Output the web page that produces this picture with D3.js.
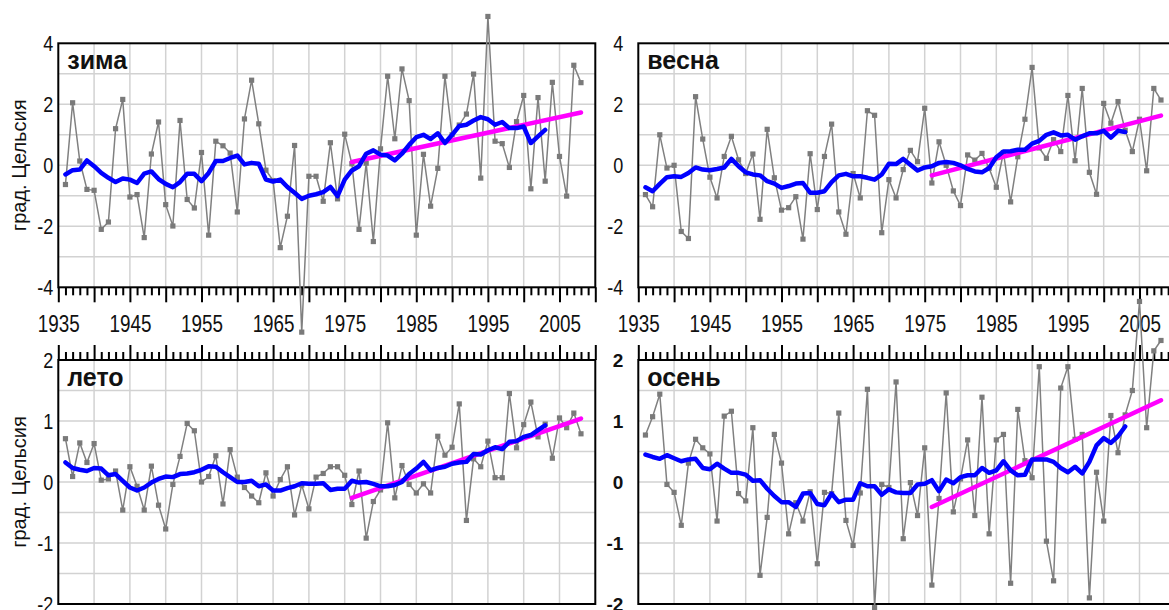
<!DOCTYPE html>
<html>
<head>
<meta charset="utf-8">
<script src="https://d3js.org/d3.v7.min.js"></script>
<style>
    body { margin: 0; background: #fff; }
    svg { display: block; }
</style>
</head>
<body>
<svg width="1169" height="610"></svg>

<script>
    // годы наблюдений, скользящего среднего и тренда
    var years = d3.range(1936, 2009);
    var avgYears = d3.range(1936, 2004);
    var trendYears = [1976, 2008];

    // аномалии температуры по сезонам, град. Цельсия
    var winter = [-0.63, 2.05, 0.14, -0.79, -0.82, -2.1, -1.86, 1.2, 2.16, -1.04,
        -0.96, -2.37, 0.37, 1.42, -1.29, -1.99, 1.47, -1.12, -1.4, 0.42,
        -2.29, 0.79, 0.64, 0.4, -1.53, 1.52, 2.79, 1.36, -0.16, -0.5,
        -2.7, -1.67, 0.65, -5.47, -0.36, -0.36, -1.18, 0.74, -1.1, 1.02,
        0.05, -2.1, 0.07, -2.5, 0.54, 2.92, 0.87, 3.16, 2.12, -2.29,
        0.36, -1.34, -0.1, 2.92, 1.0, 1.32, 1.68, 2.99, -0.42, 4.88,
        0.79, 0.71, -0.07, 1.43, 2.29, -0.77, 2.22, -0.52, 2.72, 0.29,
        -1.01, 3.28, 2.71];
    var spring = [-0.96, -1.36, 1.0, -0.09, 0.0, -2.17, -2.4, 2.25, 0.86, -0.39,
        -1.07, 0.29, 0.95, 0.18, -0.27, 0.37, -1.77, 1.18, -0.41, -1.47,
        -1.39, -1.03, -2.42, 0.38, -1.45, 0.29, 1.35, -1.53, -2.26, -0.27,
        -1.07, 1.79, 1.64, -2.21, -0.47, -1.07, -0.14, 0.49, 0.12, 1.87,
        -0.58, 0.77, 0.0, -0.84, -1.32, 0.34, 0.17, 0.39, -0.1, -0.72,
        0.42, -1.2, 0.28, 1.51, 3.21, 0.57, 0.23, 0.84, 0.45, 2.29,
        0.15, 2.52, -0.23, -0.95, 2.03, 1.38, 2.09, 1.15, 0.45, 1.51,
        -0.18, 2.52, 2.14];
    var summer = [0.71, 0.09, 0.64, 0.32, 0.63, 0.03, 0.05, 0.18, -0.46, 0.25,
        -0.07, -0.46, 0.26, -0.38, -0.77, -0.04, 0.42, 0.96, 0.84, 0.0,
        0.09, 0.43, -0.36, 0.53, 0.08, -0.09, -0.23, -0.34, 0.15, -0.23,
        0.04, 0.25, -0.54, -0.05, -0.44, 0.08, 0.14, 0.25, 0.25, 0.11,
        -0.37, 0.18, -0.92, -0.32, -0.13, 0.97, -0.26, 0.27, -0.04, -0.18,
        -0.03, -0.18, 0.75, 0.44, 0.57, 1.28, -0.63, 0.38, 0.25, 0.67,
        0.07, 0.07, 1.45, 0.56, 0.94, 1.31, 0.74, 0.95, 0.39, 1.05,
        0.89, 1.13, 0.79];
    var autumn = [0.77, 1.07, 1.44, -0.04, -0.17, -0.71, 0.31, 0.7, 0.56, 0.46,
        -0.64, 1.08, 1.16, -0.19, -0.31, 0.89, -1.53, -0.58, 0.78, 0.31,
        -0.85, -0.34, -0.64, -0.16, -1.34, -0.17, -0.19, 1.13, -0.63, -1.04,
        -0.18, 1.52, -2.06, -0.04, -0.09, 1.64, -0.93, -0.01, -0.55, 0.56,
        -1.69, -0.27, 1.46, -0.49, 0.05, 0.69, -0.55, 1.39, -0.85, 0.69,
        0.78, -1.66, 1.19, 0.35, 0.07, 1.89, -0.97, -1.62, 1.54, 1.89,
        0.7, 0.78, -1.9, 0.16, -0.64, 1.09, 0.48, 1.1, 1.5, 2.96,
        0.89, 2.15, 2.32];

    // 11-летнее скользящее среднее
    var winterAvg = [-0.3, -0.16, -0.14, 0.16, -0.03, -0.25, -0.41, -0.55, -0.43, -0.47,
        -0.58, -0.27, -0.2, -0.45, -0.61, -0.72, -0.55, -0.28, -0.28, -0.52,
        -0.25, 0.14, 0.14, 0.24, 0.32, 0.03, 0.08, 0.05, -0.47, -0.53,
        -0.47, -0.71, -0.9, -1.1, -1.0, -0.95, -0.88, -0.71, -1.01, -0.47,
        -0.17, -0.03, 0.38, 0.49, 0.35, 0.32, 0.16, 0.38, 0.67, 0.92,
        1.0, 0.86, 1.05, 0.73, 1.0, 1.29, 1.33, 1.47, 1.58, 1.51,
        1.33, 1.42, 1.22, 1.22, 1.27, 0.73, 0.95, 1.16];
    var springAvg = [-0.72, -0.85, -0.61, -0.39, -0.36, -0.38, -0.25, -0.07, -0.14, -0.16,
        -0.12, -0.07, 0.21, -0.03, -0.23, -0.3, -0.33, -0.52, -0.6, -0.74,
        -0.68, -0.6, -0.58, -0.9, -0.9, -0.85, -0.55, -0.33, -0.28, -0.36,
        -0.36, -0.41, -0.47, -0.3, 0.05, 0.04, 0.21, 0.02, -0.17, -0.07,
        -0.03, 0.08, 0.11, 0.08, 0.0, -0.12, -0.2, -0.23, -0.09, 0.26,
        0.45, 0.46, 0.51, 0.51, 0.71, 0.8, 1.0, 1.08, 0.98, 1.0,
        0.84, 0.95, 1.05, 1.05, 1.13, 0.91, 1.13, 1.09];
    var summerAvg = [0.32, 0.23, 0.2, 0.18, 0.23, 0.22, 0.11, 0.13, 0.02, -0.09,
        -0.14, -0.09, -0.01, 0.05, 0.09, 0.08, 0.13, 0.14, 0.16, 0.2,
        0.26, 0.25, 0.16, 0.08, 0.0, 0.0, 0.02, -0.07, -0.04, -0.14,
        -0.14, -0.1, -0.07, -0.02, -0.03, -0.03, -0.02, -0.13, -0.11, -0.11,
        0.02, -0.01, 0.0, -0.03, -0.07, -0.07, -0.05, 0.0, 0.13, 0.22,
        0.33, 0.19, 0.23, 0.25, 0.3, 0.32, 0.33, 0.46, 0.45, 0.52,
        0.57, 0.54, 0.66, 0.67, 0.74, 0.77, 0.85, 0.93];
    var autumnAvg = [0.45, 0.41, 0.38, 0.44, 0.39, 0.34, 0.37, 0.38, 0.23, 0.21,
        0.3, 0.22, 0.15, 0.15, 0.12, 0.02, 0.03, -0.11, -0.23, -0.33,
        -0.33, -0.41, -0.19, -0.18, -0.36, -0.38, -0.19, -0.33, -0.29, -0.29,
        -0.02, -0.07, -0.07, -0.21, -0.12, -0.17, -0.18, -0.18, -0.04, -0.03,
        0.03, -0.15, 0.04, -0.02, 0.08, 0.11, 0.11, 0.23, 0.15, 0.19,
        0.34, 0.19, 0.11, 0.12, 0.37, 0.37, 0.37, 0.33, 0.23, 0.16,
        0.25, 0.14, 0.33, 0.6, 0.72, 0.64, 0.75, 0.91];

    // линейный тренд 1976-2008 (значения на концах)
    var winterTrend = [0.11, 1.73];
    var springTrend = [-0.33, 1.63];
    var summerTrend = [-0.26, 1.04];
    var autumnTrend = [-0.41, 1.34];

    // подписи и деления
    var xLabels = [1935, 1945, 1955, 1965, 1975, 1985, 1995, 2005];
    var xGrid = [1940, 1945, 1950, 1955, 1960, 1965, 1970, 1975, 1980, 1985, 1990, 1995, 2000, 2005];
    var yTicksTop = [-4, -2, 0, 2, 4];
    var yGridTop = [-3, -2, -1, 0, 1, 2, 3];
    var yTicksBottom = [-2, -1, 0, 1, 2];
    var yGridBottom = [-1.5, -1, -0.5, 0, 0.5, 1, 1.5];

    var svg = d3.select("svg");
    var W = 537, H = 244;
    var sans = "'Liberation Sans', Arial, sans-serif";
    // узкий шрифт не установлен - сжимаем обычный по горизонтали
    var squeeze = 0.82;

    var panels = [
        { title: "зима", left: 58.3, top: 43.3, values: winter, avg: winterAvg, trend: winterTrend,
          domain: [-4, 4], ticks: yTicksTop, grid: yGridTop, axis: "bottom", yLabel: true, labelGap: 5, bold: false },
        { title: "весна", left: 638.3, top: 43.3, values: spring, avg: springAvg, trend: springTrend,
          domain: [-4, 4], ticks: yTicksTop, grid: yGridTop, axis: "bottom", yLabel: false, labelGap: 15, bold: false },
        { title: "лето", left: 58.3, top: 360, values: summer, avg: summerAvg, trend: summerTrend,
          domain: [-2, 2], ticks: yTicksBottom, grid: yGridBottom, axis: "top", yLabel: true, labelGap: 5, bold: false },
        { title: "осень", left: 638.3, top: 360, values: autumn, avg: autumnAvg, trend: autumnTrend,
          domain: [-2, 2], ticks: yTicksBottom, grid: yGridBottom, axis: "top", yLabel: false, labelGap: 15, bold: true }
    ];

    panels.forEach(drawPanel);

    function drawPanel(p) {
        var g = svg.append("g").attr("transform", "translate(" + p.left + "," + p.top + ")");
        var x = d3.scaleLinear().domain([1935, 2010]).range([0, W]);
        var y = d3.scaleLinear().domain(p.domain).range([H, 0]);

        // сетка
        g.append("g").selectAll("line").data(xGrid).join("line")
            .attr("x1", function(d) { return x(d); }).attr("x2", function(d) { return x(d); })
            .attr("y1", 0).attr("y2", H)
            .attr("stroke", "#d2d2d2").attr("stroke-width", 1.5);
        g.append("g").selectAll("line").data(p.grid).join("line")
            .attr("x1", 0).attr("x2", W)
            .attr("y1", function(d) { return y(d); }).attr("y2", function(d) { return y(d); })
            .attr("stroke", "#d2d2d2").attr("stroke-width", 1.5);

        // рамка
        g.append("rect").attr("width", W).attr("height", H)
            .attr("fill", "none").attr("stroke", "#000").attr("stroke-width", 2);

        // ось лет: мелкие деления каждый год, крупные каждые 5 лет
        var axis = (p.axis === "bottom" ? d3.axisBottom(x) : d3.axisTop(x))
            .tickValues(d3.range(1935, 2011))
            .tickSize(8)
            .tickFormat(function(d) { return (p.axis === "bottom" && xLabels.indexOf(d) >= 0) ? d : ""; });
        var ax = g.append("g")
            .attr("transform", p.axis === "bottom" ? "translate(0," + H + ")" : null)
            .call(axis);
        ax.select(".domain").remove();
        ax.selectAll(".tick line").attr("stroke", "#000").attr("stroke-width", 2)
            .filter(function(d) { return d % 5 === 0; })
            .attr("y2", p.axis === "bottom" ? 15 : -15);
        ax.selectAll(".tick text")
            .attr("y", null).attr("dy", null)
            .attr("transform", "translate(0,44.5) scale(" + squeeze + ",1)")
            .attr("fill", "#111")
            .style("font-family", sans).style("font-size", "23px");

        // подписи оси значений
        g.append("g").selectAll("text").data(p.ticks).join("text")
            .attr("transform", function(d) {
                return "translate(" + (-p.labelGap) + "," + y(d) + ")" + (p.bold ? "" : " scale(" + squeeze + ",1)");
            })
            .attr("dy", "0.36em")
            .attr("text-anchor", "end")
            .attr("fill", "#111")
            .style("font-family", sans)
            .style("font-weight", p.bold ? "bold" : "normal")
            .style("font-size", p.bold ? "19px" : "22px")
            .text(function(d) { return d; });

        if (p.yLabel) {
            svg.append("text")
                .attr("transform", "translate(26," + (p.top + H / 2) + ") rotate(-90)")
                .attr("text-anchor", "middle")
                .attr("fill", "#111")
                .style("font-family", sans).style("font-size", "20px")
                .text("град. Цельсия");
        }

        // годовые значения
        var line = d3.line()
            .x(function(d) { return x(d[0]); })
            .y(function(d) { return y(d[1]); });
        var pts = d3.zip(years, p.values);

        g.append("path").datum(pts)
            .attr("d", line)
            .attr("fill", "none").attr("stroke", "#808080").attr("stroke-width", 1.5);
        g.append("g").selectAll("rect").data(pts).join("rect")
            .attr("x", function(d) { return x(d[0]) - 2.6; })
            .attr("y", function(d) { return y(d[1]) - 2.6; })
            .attr("width", 5.2).attr("height", 5.2)
            .attr("fill", "#7a7a7a");

        // тренд
        g.append("path").datum(d3.zip(trendYears, p.trend))
            .attr("d", line)
            .attr("fill", "none").attr("stroke", "#ff00ff").attr("stroke-width", 4.5)
            .attr("stroke-linecap", "round");

        // скользящее среднее
        g.append("path").datum(d3.zip(avgYears, p.avg))
            .attr("d", line)
            .attr("fill", "none").attr("stroke", "#0000ff").attr("stroke-width", 4.5)
            .attr("stroke-linejoin", "round").attr("stroke-linecap", "round");

        // название сезона
        g.append("text")
            .attr("x", 9).attr("y", 26)
            .attr("fill", "#111")
            .style("font-family", sans).style("font-weight", "bold").style("font-size", "25px")
            .text(p.title);
    }
</script>
</body>
</html>
